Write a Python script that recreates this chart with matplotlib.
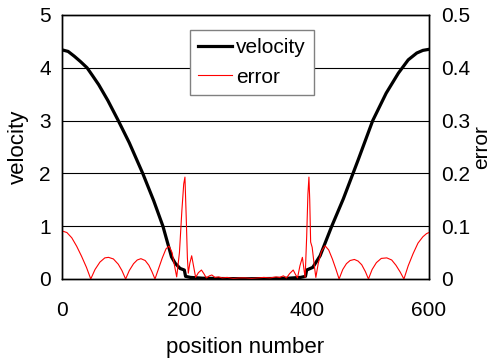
import numpy as np
import matplotlib
matplotlib.use("Agg")
import matplotlib.pyplot as plt

plt.rcParams['font.family'] = ['Liberation Sans', 'DejaVu Sans']

# velocity profile (left axis)
vel_pos = [0, 10, 20, 30, 41, 50, 60, 75, 92, 110, 132, 150, 165, 179, 185, 193, 200, 202,
           210, 230, 250, 300, 350, 370, 390, 398, 400, 410, 422, 441, 460, 484, 508,
           530, 550, 566, 580, 590, 600]
velocity = [4.34, 4.31, 4.22, 4.12, 4.0, 3.85, 3.68, 3.38, 3.0, 2.58, 2.0, 1.48, 1.0, 0.42,
            0.3, 0.2, 0.17, 0.05, 0.03, 0.015, 0.01, 0.005, 0.01, 0.015, 0.03, 0.05, 0.17,
            0.22, 0.44, 1.0, 1.52, 2.25, 3.0, 3.52, 3.9, 4.15, 4.28, 4.33, 4.35]

# error (right axis)
err_pos = [0, 8, 16, 24, 32, 40, 47, 54, 62, 70, 76, 84, 92, 98, 104, 110, 117, 123, 129,
           136, 142, 147, 152, 158, 164, 170, 175, 180, 184, 187.5, 192, 196, 199, 201,
           203, 205, 206.5, 209, 212, 215, 218.5, 223, 228, 232, 236, 241, 245, 250, 256,
           262, 270, 280, 290, 300, 310, 320, 330, 340, 350, 356, 362, 367, 372, 378, 382,
           385, 389, 393, 396, 397.5, 400, 402, 403.7, 405, 406.5, 409, 412, 415, 419, 424,
           430, 436, 442, 448, 453, 459, 465, 471, 478, 484, 490, 496, 501, 507, 514, 522,
           531, 539, 546, 553, 559, 566, 574, 582, 590, 596, 600]
error = [0.091, 0.088, 0.078, 0.062, 0.043, 0.022, 0.0, 0.018, 0.032, 0.040, 0.041, 0.038,
         0.028, 0.016, 0.0, 0.016, 0.029, 0.036, 0.0385, 0.035, 0.026, 0.014, 0.0, 0.020,
         0.040, 0.057, 0.0625, 0.050, 0.025, 0.004, 0.05, 0.13, 0.18, 0.193, 0.12, 0.04,
         0.011, 0.03, 0.044, 0.025, 0.003, 0.012, 0.017, 0.010, 0.002, 0.006, 0.0076, 0.003,
         0.004, 0.002, 0.003, 0.001, 0.002, 0.002, 0.001, 0.002, 0.003, 0.002, 0.004, 0.003,
         0.006, 0.002, 0.010, 0.017, 0.008, 0.002, 0.025, 0.041, 0.015, 0.003, 0.08, 0.16,
         0.193, 0.15, 0.07, 0.06, 0.03, 0.003, 0.03, 0.052, 0.063, 0.055, 0.038, 0.018, 0.0,
         0.018, 0.029, 0.035, 0.037, 0.034, 0.027, 0.014, 0.0, 0.018, 0.031, 0.039, 0.040,
         0.036, 0.026, 0.013, 0.0, 0.025, 0.048, 0.068, 0.080, 0.086, 0.088]

x_ticks = [0, 200, 400, 600]
v_ticks = [0, 1, 2, 3, 4, 5]
e_ticks = [0, 0.1, 0.2, 0.3, 0.4, 0.5]
e_labels = ['0', '0.1', '0.2', '0.3', '0.4', '0.5']

fig = plt.figure(figsize=(4.91, 3.6), dpi=100)
ax = fig.add_axes([62/491, 1-279/360, 367/491, 264/360])
ax2 = ax.twinx()

for y in v_ticks[1:-1]:
    ax.axhline(y, color='black', lw=0.8, zorder=0)

l1, = ax.plot(vel_pos, velocity, color='black', lw=2.3, zorder=3)
l2, = ax2.plot(err_pos, error, color='red', lw=0.8)

ax.set_xlim(0, 600)
ax.set_ylim(0, 5)
ax2.set_ylim(0, 0.5)
ax.set_xticks(x_ticks)
ax.set_yticks(v_ticks)
ax2.set_yticks(e_ticks)
ax2.set_yticklabels(e_labels)

ax.tick_params(axis='x', length=0, pad=16, labelsize=15)
ax.tick_params(axis='y', length=0, pad=8, labelsize=15)
ax2.tick_params(axis='y', length=0, pad=9, labelsize=15)

for a in (ax, ax2):
    for s in a.spines.values():
        s.set_linewidth(1.0)
        s.set_color('black')

ax.set_xlabel('position number', fontsize=16, labelpad=12)
ax.set_ylabel('velocity', fontsize=16, labelpad=7)
# right-hand axis title, placed by hand so it sits close to the edge like the original
fig.text(482/491, 1-147/360, 'error', fontsize=15, rotation=90, ha='center', va='center')

leg = ax2.legend([l1, l2], ['velocity', 'error'], loc='upper left',
                 bbox_to_anchor=(190/491, 1-30/360), bbox_transform=fig.transFigure,
                 fancybox=False, framealpha=1, fontsize=15, handlelength=1.6,
                 borderpad=0.4, labelspacing=0.5, handletextpad=0.2,
                 borderaxespad=0)
leg.get_frame().set_edgecolor('gray')
leg.get_frame().set_linewidth(1.0)

fig.savefig('out.png', dpi=100)
